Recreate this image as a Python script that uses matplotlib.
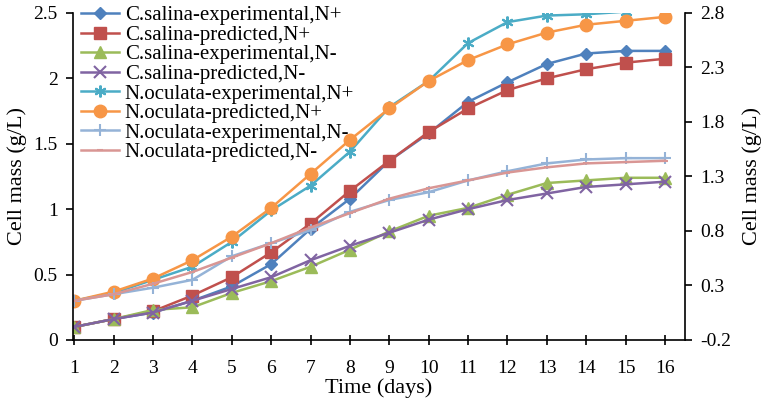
import matplotlib
matplotlib.use("Agg")
import matplotlib.pyplot as plt

plt.rcParams['font.family'] = ['Liberation Serif', 'DejaVu Serif']

days = list(range(1, 17))

cs_exp_np = [0.10, 0.16, 0.21, 0.30, 0.41, 0.58, 0.85, 1.08, 1.37, 1.58, 1.82, 1.97, 2.11, 2.19, 2.21, 2.21]
cs_pre_np = [0.10, 0.16, 0.22, 0.34, 0.48, 0.67, 0.89, 1.14, 1.37, 1.59, 1.77, 1.91, 2.00, 2.07, 2.12, 2.15]
cs_exp_nm = [0.10, 0.16, 0.23, 0.25, 0.36, 0.45, 0.56, 0.69, 0.83, 0.95, 1.01, 1.11, 1.20, 1.22, 1.24, 1.24]
cs_pre_nm = [0.10, 0.16, 0.21, 0.30, 0.39, 0.48, 0.61, 0.72, 0.82, 0.92, 1.00, 1.07, 1.12, 1.17, 1.19, 1.21]
no_exp_np = [0.30, 0.36, 0.46, 0.56, 0.75, 0.99, 1.18, 1.44, 1.78, 1.98, 2.27, 2.43, 2.48, 2.49, 2.51, 2.51]
no_pre_np = [0.30, 0.37, 0.47, 0.61, 0.79, 1.01, 1.27, 1.53, 1.77, 1.98, 2.14, 2.26, 2.35, 2.41, 2.44, 2.47]
no_exp_nm = [0.30, 0.35, 0.40, 0.46, 0.64, 0.74, 0.84, 0.98, 1.07, 1.13, 1.22, 1.29, 1.35, 1.38, 1.39, 1.39]
no_pre_nm = [0.30, 0.35, 0.43, 0.52, 0.63, 0.74, 0.86, 0.97, 1.08, 1.16, 1.22, 1.28, 1.32, 1.35, 1.36, 1.37]

labels = ["C.salina-experimental,N+", "C.salina-predicted,N+", "C.salina-experimental,N-",
          "C.salina-predicted,N-", "N.oculata-experimental,N+", "N.oculata-predicted,N+",
          "N.oculata-experimental,N-", "N.oculata-predicted,N-"]
series = [cs_exp_np, cs_pre_np, cs_exp_nm, cs_pre_nm, no_exp_np, no_pre_np, no_exp_nm, no_pre_nm]
colors = ["#4F81BD", "#C0504D", "#9BBB59", "#8064A2", "#4BACC6", "#F79646", "#95B3D7", "#D99694"]
markers = ["D", "s", "^", "x", (6, 2, 0), "o", "+", "_"]
msizes = [6.5, 8, 8, 8, 8.5, 9, 8.5, 5]

left_ticks = [0, 0.5, 1, 1.5, 2, 2.5]
left_labels = ["0", "0.5", "1", "1.5", "2", "2.5"]
right_ticks = [-0.2, 0.3, 0.8, 1.3, 1.8, 2.3, 2.8]
right_labels = ["-0.2", "0.3", "0.8", "1.3", "1.8", "2.3", "2.8"]

fig = plt.figure(figsize=(7.62, 4.05), dpi=100)
ax = fig.add_axes([0.0958, 0.1605, 0.8032, 0.8075])
handles = []
for s, lab, c, m, ms in zip(series, labels, colors, markers, msizes):
    mew = 1.5 if m in ("x", "+", "_", (6, 2, 0)) else 1
    h, = ax.plot(days, s, color=c, lw=1.8, marker=m, markersize=ms,
                 markerfacecolor=c, markeredgecolor=c, markeredgewidth=mew, label=lab)
    handles.append(h)

ax.set_xlim(0.967, 16.51)
ax.set_ylim(0, 2.5)
ax.set_xticks(days)
ax.set_xticklabels([str(d) for d in days])
ax.set_yticks(left_ticks)
ax.set_yticklabels(left_labels)
for sp in ["top", "right"]:
    ax.spines[sp].set_visible(False)
for sp in ["left", "bottom"]:
    ax.spines[sp].set_linewidth(1.2)
ax.tick_params(axis='x', labelsize=14, length=7, width=1.2, direction='inout', pad=11)
ax.tick_params(axis='y', labelsize=14, length=5, width=1.2, pad=6)
ax.set_xlabel("Time (days)", fontsize=16, labelpad=1)
ax.set_ylabel("Cell mass (g/L)", fontsize=16, labelpad=5)

ax2 = ax.twinx()
ax2.set_ylim(-0.2, 2.8)
ax2.set_yticks(right_ticks)
ax2.set_yticklabels(right_labels)
for sp in ["top", "left", "bottom"]:
    ax2.spines[sp].set_visible(False)
ax2.spines["right"].set_linewidth(1.2)
ax2.tick_params(axis='y', labelsize=14, length=5, width=1.2, pad=6)
ax2.set_ylabel("Cell mass (g/L)", fontsize=16, labelpad=8)

leg = fig.legend(handles=handles, labels=labels, loc="upper left",
                 bbox_to_anchor=(0.087, 1.022), frameon=False, fontsize=15,
                 handlelength=1.85, handletextpad=0.25, labelspacing=0.0,
                 borderpad=0.2)

fig.savefig("out.png", dpi=100)
